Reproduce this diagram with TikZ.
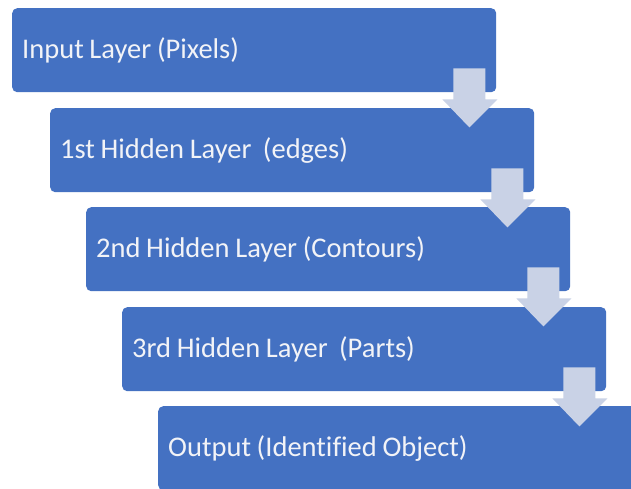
\documentclass[tikz,border=0pt]{standalone}
\usepackage{fontspec}
\setmainfont{Carlito}[Ligatures=NoCommon]
\usetikzlibrary{positioning}

\definecolor{layerblue}{HTML}{4471C2}
\definecolor{layertext}{HTML}{F2F3F7}
\definecolor{arrowgray}{HTML}{C9D2E6}

\tikzset{
	layer/.style={rectangle, rounded corners=5pt, fill=layerblue, text=layertext,
		minimum height=84pt, text width=464pt, inner xsep=10pt, inner ysep=0pt,
		align=left, anchor=north west, font=\fontsize{28.5}{32}\selectfont,
		execute at begin node={\spaceskip=0.2em\relax}},
	downarrow/.style={fill=arrowgray}
}

\begin{document}
\begin{tikzpicture}[x=1pt, y=-1pt]
		\clip (0,0) rectangle (631,489);
		\fill[white] (0,0) rectangle (631,489);
		% 各層のボックス
		\node[layer] (input) at (12,8) {Input Layer (Pixels)};
		\node[layer] (edges) at (50,108) {1st Hidden Layer~ (edges)};
		\node[layer] (contours) at (86,207) {2nd Hidden Layer (Contours)};
		\node[layer] (parts) at (122,307) {3rd Hidden Layer~ (Parts)};
		\node[layer] (output) at (158,406) {Output (Identified Object)};
		% 下向き矢印(ボックスの角に重ねる)
		\fill[downarrow] ([shift={(-43,-24)}]input.south east)
		-- ++(32,0) -- ++(0,31) -- ++(12,0) -- ++(-28,28) -- ++(-27,-28) -- ++(11,0) -- cycle;
		\fill[downarrow] ([shift={(-43,-24)}]edges.south east)
		-- ++(32,0) -- ++(0,31) -- ++(12,0) -- ++(-28,28) -- ++(-27,-28) -- ++(11,0) -- cycle;
		\fill[downarrow] ([shift={(-43,-24)}]contours.south east)
		-- ++(32,0) -- ++(0,31) -- ++(12,0) -- ++(-28,28) -- ++(-27,-28) -- ++(11,0) -- cycle;
		\fill[downarrow] ([shift={(-43,-24)}]parts.south east)
		-- ++(32,0) -- ++(0,31) -- ++(12,0) -- ++(-28,28) -- ++(-27,-28) -- ++(11,0) -- cycle;
	\end{tikzpicture}
\end{document}
